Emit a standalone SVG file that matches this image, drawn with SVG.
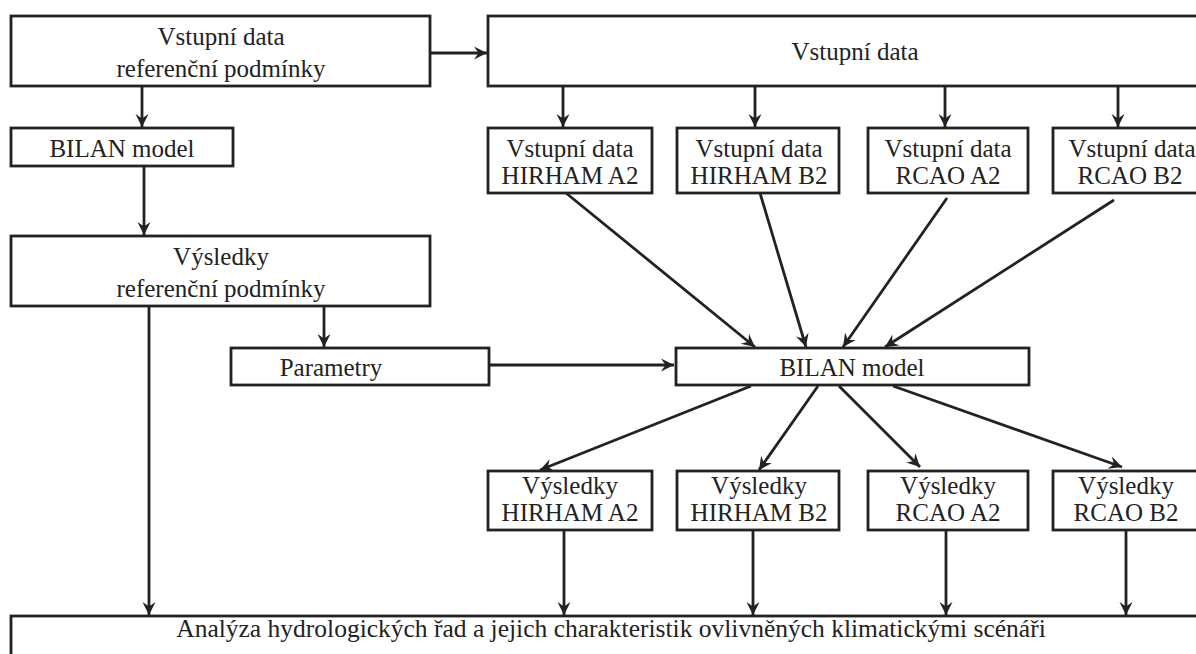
<svg xmlns="http://www.w3.org/2000/svg" width="1196" height="654" viewBox="0 0 1196 654">
<style>
.box{fill:#fff;stroke:#222;stroke-width:2.8}
.t{font-family:"Liberation Serif","Times New Roman",serif;font-size:25px;fill:#222;text-anchor:middle}
.c{stroke:#222;stroke-width:2.8;fill:none;marker-end:url(#ah)}
</style>
<defs>
<marker id="ah" markerUnits="userSpaceOnUse" markerWidth="16" markerHeight="16" viewBox="-14 -8 16 16" refX="0" refY="0" orient="auto">
<path d="M0,0 L-13,-6.5 L-8.5,0 L-13,6.5 Z" fill="#222"/>
</marker>
</defs>
<rect width="1196" height="654" fill="#fff"/>
<g id="connectors">
<line class="c" x1="431" y1="53" x2="487" y2="53"/>
<line class="c" x1="142" y1="86" x2="142" y2="127"/>
<line class="c" x1="144" y1="166" x2="144" y2="235"/>
<line class="c" x1="563" y1="86" x2="563" y2="127"/>
<line class="c" x1="755" y1="86" x2="755" y2="127"/>
<line class="c" x1="945" y1="86" x2="945" y2="127"/>
<line class="c" x1="1118" y1="86" x2="1118" y2="127"/>
<line class="c" x1="324" y1="306" x2="324" y2="347"/>
<line class="c" x1="149" y1="306" x2="149" y2="615"/>
<line class="c" x1="489" y1="365" x2="674" y2="365"/>
<line class="c" x1="566" y1="193" x2="755" y2="347"/>
<line class="c" x1="760" y1="193" x2="806" y2="347"/>
<line class="c" x1="947" y1="198" x2="843" y2="347"/>
<line class="c" x1="1114" y1="200" x2="885" y2="347"/>
<line class="c" x1="751" y1="386" x2="540" y2="470"/>
<line class="c" x1="818" y1="386" x2="759" y2="470"/>
<line class="c" x1="839" y1="386" x2="920" y2="467"/>
<line class="c" x1="893" y1="386" x2="1122" y2="467"/>
<line class="c" x1="564" y1="530" x2="564" y2="615"/>
<line class="c" x1="753" y1="530" x2="753" y2="615"/>
<line class="c" x1="946" y1="530" x2="946" y2="615"/>
<line class="c" x1="1126" y1="530" x2="1126" y2="615"/>
</g>
<g id="n_in_ref">
<rect class="box" x="11" y="16" width="419" height="70"/>
<text class="t" x="221" y="45">Vstupní data</text>
<text class="t" x="221" y="77">referenční podmínky</text>
</g>
<g id="n_in">
<rect class="box" x="488" y="16" width="740" height="70"/>
<text class="t" x="855" y="60">Vstupní data</text>
</g>
<g id="n_bilan_ref">
<rect class="box" x="11" y="128" width="222" height="38"/>
<text class="t" x="122" y="157">BILAN model</text>
</g>
<g id="n_in_ha2">
<rect class="box" x="488" y="128" width="164" height="65"/>
<text class="t" x="570" y="157">Vstupní data</text>
<text class="t" x="570" y="184">HIRHAM A2</text>
</g>
<g id="n_in_hb2">
<rect class="box" x="677" y="128" width="162" height="65"/>
<text class="t" x="759" y="157">Vstupní data</text>
<text class="t" x="759" y="184">HIRHAM B2</text>
</g>
<g id="n_in_ra2">
<rect class="box" x="868" y="128" width="160" height="65"/>
<text class="t" x="948" y="157">Vstupní data</text>
<text class="t" x="948" y="184">RCAO A2</text>
</g>
<g id="n_in_rb2">
<rect class="box" x="1053" y="128" width="160" height="65"/>
<text class="t" x="1132" y="157">Vstupní data</text>
<text class="t" x="1130" y="184">RCAO B2</text>
</g>
<g id="n_res_ref">
<rect class="box" x="11" y="236" width="419" height="70"/>
<text class="t" x="221" y="265">Výsledky</text>
<text class="t" x="221" y="297">referenční podmínky</text>
</g>
<g id="n_param">
<rect class="box" x="231" y="348" width="258" height="37"/>
<text class="t" x="331" y="376">Parametry</text>
</g>
<g id="n_bilan">
<rect class="box" x="676" y="348" width="353" height="37"/>
<text class="t" x="852" y="376">BILAN model</text>
</g>
<g id="n_res_ha2">
<rect class="box" x="488" y="471" width="164" height="59"/>
<text class="t" x="570" y="494">Výsledky</text>
<text class="t" x="570" y="521">HIRHAM A2</text>
</g>
<g id="n_res_hb2">
<rect class="box" x="677" y="471" width="162" height="59"/>
<text class="t" x="759" y="494">Výsledky</text>
<text class="t" x="759" y="521">HIRHAM B2</text>
</g>
<g id="n_res_ra2">
<rect class="box" x="868" y="471" width="160" height="59"/>
<text class="t" x="948" y="494">Výsledky</text>
<text class="t" x="948" y="521">RCAO A2</text>
</g>
<g id="n_res_rb2">
<rect class="box" x="1053" y="471" width="160" height="59"/>
<text class="t" x="1126" y="494">Výsledky</text>
<text class="t" x="1126" y="521">RCAO B2</text>
</g>
<g id="n_analysis">
<rect class="box" x="11" y="616" width="1220" height="60"/>
<text class="t" x="611" y="637" style="font-size:25.5px">Analýza hydrologických řad a jejich charakteristik ovlivněných klimatickými scénáři</text>
</g>
</svg>
